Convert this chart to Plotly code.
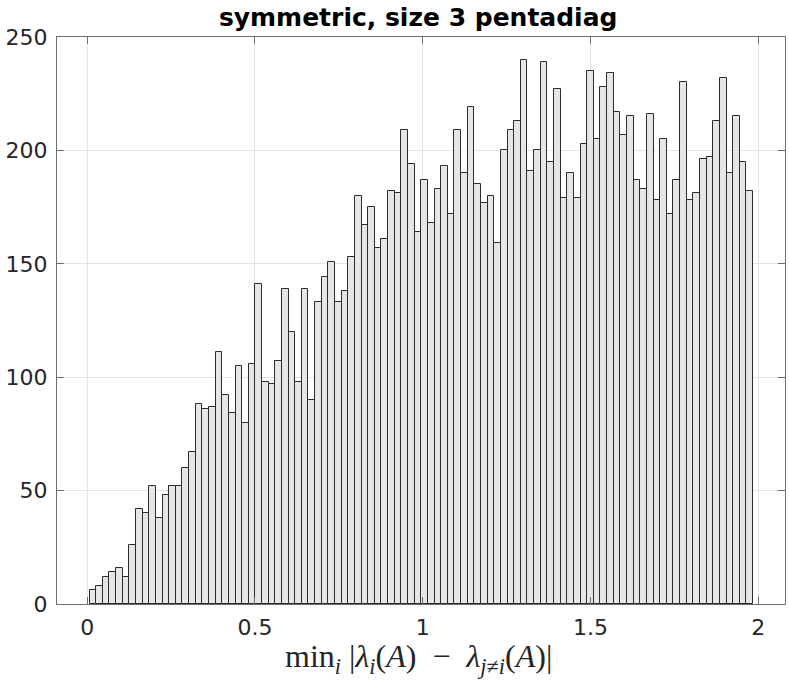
import plotly.graph_objects as go

# histogram counts, 100 bins
counts = [
    6, 8, 12, 14, 16, 12, 26, 42, 40, 52,
    38, 48, 52, 52, 60, 67, 88, 86, 87, 111,
    92, 84, 105, 80, 106, 141, 98, 97, 107, 139,
    120, 98, 139, 90, 133, 144, 151, 133, 138, 153,
    180, 167, 175, 157, 161, 182, 181, 209, 194, 164,
    187, 168, 183, 193, 172, 209, 190, 219, 185, 177,
    180, 159, 200, 209, 213, 240, 191, 200, 239, 195,
    227, 179, 190, 179, 203, 235, 205, 228, 234, 217,
    207, 215, 187, 183, 216, 178, 205, 172, 187, 230,
    178, 181, 196, 197, 213, 232, 190, 215, 195, 182,
]
bin_start = 0.0069
bin_width = 0.01978

x_ticks = [0, 0.5, 1, 1.5, 2]
x_ticklabels = ["0", "0.5", "1", "1.5", "2"]
y_ticks = [0, 50, 100, 150, 200, 250]

centers = [bin_start + (i + 0.5) * bin_width for i in range(len(counts))]

AXIS_COLOR = "#6e6e6e"
GRID_COLOR = "#e4e4e4"

fig = go.Figure(go.Bar(
    x=centers,
    y=counts,
    width=bin_width,
    marker=dict(color="#e6e6e6", line=dict(color="#2b2b2b", width=1)),
    hoverinfo="x+y",
))

axis_common = dict(
    showline=True,
    linecolor=AXIS_COLOR,
    linewidth=1,
    mirror="ticks",
    ticks="inside",
    ticklen=7,
    tickcolor=AXIS_COLOR,
    showgrid=True,
    gridcolor=GRID_COLOR,
    gridwidth=1,
    zeroline=False,
    automargin=False,
    tickfont=dict(family="DejaVu Sans", size=22, color="#262626"),
)

fig.update_xaxes(
    range=[-0.09, 2.08],
    tickvals=x_ticks,
    ticktext=x_ticklabels,
    ticklabelstandoff=4,
    **axis_common,
)
fig.update_yaxes(
    range=[0, 250],
    tickvals=y_ticks,
    ticklabelstandoff=4,
    **axis_common,
)

# latex label min_i |lambda_i(A) - lambda_{j!=i}(A)| as styled text
fig.add_annotation(
    text="min<sub><i>i</i></sub> |<i>λ</i><sub><i>i</i></sub>(<i>A</i>)\u2002−\u2002"
         "<i>λ</i><sub><i>j</i>≠<i>i</i></sub>(<i>A</i>)|",
    xref="paper", yref="paper",
    x=0.497, y=-0.097,
    xanchor="center", yanchor="middle",
    showarrow=False,
    font=dict(family="Liberation Serif", size=32, color="#262626"),
)

fig.update_layout(
    width=789,
    height=693,
    title=dict(
        text="<b>symmetric, size 3 pentadiag</b>",
        x=0.53, xanchor="center",
        y=0.975, yanchor="middle",
        font=dict(family="DejaVu Sans", size=25, color="#000000"),
    ),
    plot_bgcolor="white",
    paper_bgcolor="white",
    bargap=0,
    showlegend=False,
    margin=dict(l=57, r=4, t=37, b=89),
)

# page body has a default margin; drop it so the figure sits at the window corner
fig.write_html(
    "out.html",
    config={"responsive": False, "displayModeBar": False},
    post_script="document.body.style.margin='0';document.body.style.overflow='hidden';",
)
